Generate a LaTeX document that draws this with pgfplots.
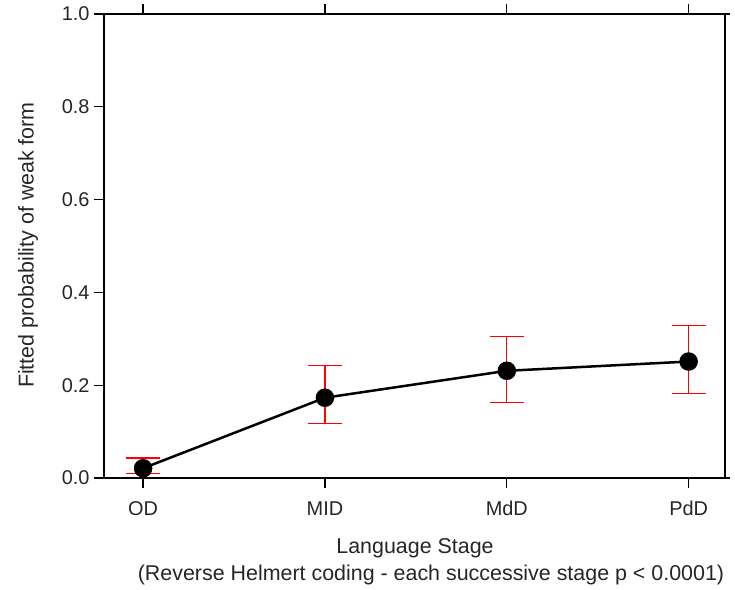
\documentclass[border=0pt]{standalone}
\usepackage{fontspec}
\setmainfont{Liberation Sans}
\usepackage{pgfplots}
\pgfplotsset{compat=1.18}
\usepackage{pgfplotstable}

\pgfplotstableread{
x   y      ep     em
1   0.021  0.022  0.012
2   0.173  0.070  0.056
3   0.231  0.074  0.068
4   0.251  0.078  0.069
}\fitted

\begin{document}
\begin{tikzpicture}[x=1bp,y=1bp]
  \path[use as bounding box] (0,0) rectangle (735,590);
  \begin{axis}[
    at={(104bp,112bp)}, anchor=south west,
    scale only axis,
    width=621bp, height=464bp,
    xmin=0.785, xmax=4.2,
    ymin=0, ymax=1,
    xtick={1,2,3,4},
    xticklabels={OD,MID,MdD,PdD},
    ytick={0,0.2,0.4,0.6,0.8,1},
    yticklabels={0.0,0.2,0.4,0.6,0.8,1.0},
    xtick pos=both, xticklabel pos=lower,
    ytick pos=left,
    tick align=outside,
    major tick length=10bp,
    tick style={black, line width=1.2bp},
    axis line style={black, line width=1.2bp},
    ticklabel style={font=\fontsize{20}{22}\selectfont, text=black!85},
    xticklabel style={yshift=-10bp},
    yticklabel style={xshift=-1bp},
    clip=false,
  ]
    \addplot[black, line width=2.5bp, mark=*, mark size=8bp,
      error bars/.cd, y dir=both, y explicit,
      error bar style={red, line width=1.3bp},
      error mark options={rotate=90, red, mark size=17bp, line width=1.3bp}]
      table[x=x, y=y, y error plus=ep, y error minus=em] {\fitted};
    % axis lines overshoot the box a little
    \draw[black, line width=1.2bp] (rel axis cs:-0.0145,0) -- (rel axis cs:1.008,0);
    \draw[black, line width=1.2bp] (rel axis cs:-0.0145,1) -- (rel axis cs:1.008,1);
  \end{axis}
  \node[font=\fontsize{21.5}{24}\selectfont, text=black!85] at (415,42) {Language Stage};
  \node[font=\fontsize{21.5}{24}\selectfont, text=black!85] at (431,15)
    {(Reverse Helmert coding - each successive stage p < 0.0001)};
  \node[font=\fontsize{21.5}{24}\selectfont, text=black!85, rotate=90] at (28,345)
    {Fitted probability of weak form};
\end{tikzpicture}
\end{document}
